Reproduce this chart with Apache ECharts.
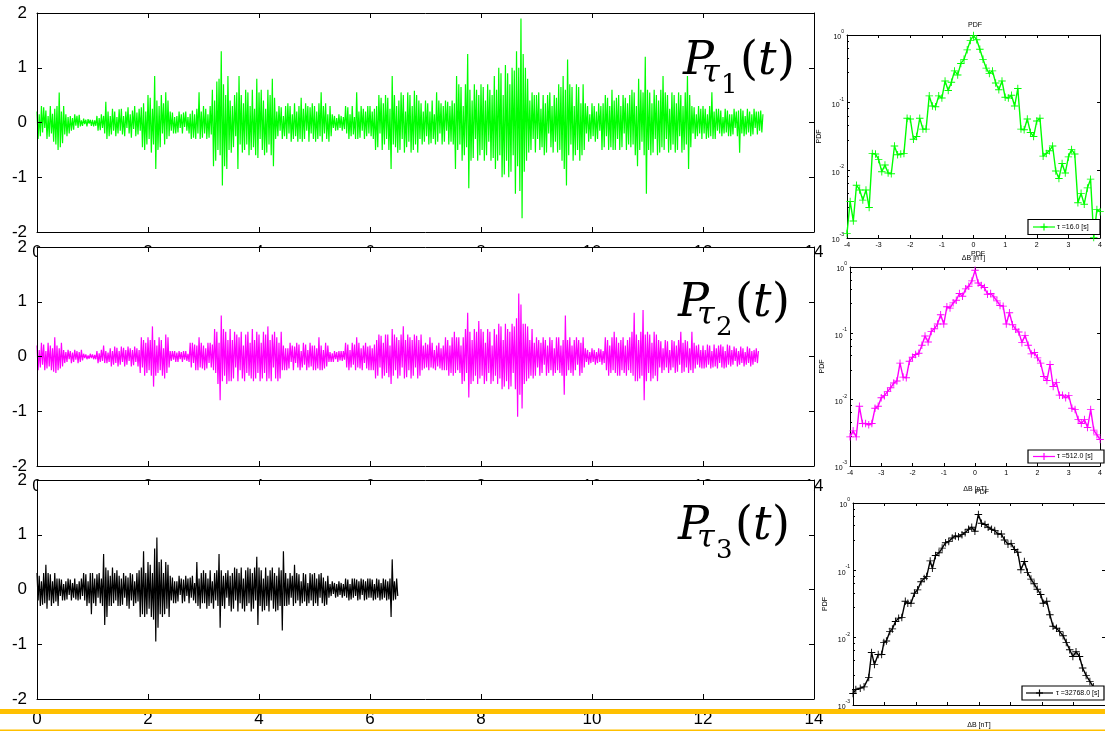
<!DOCTYPE html>
<html>
<head>
<meta charset="utf-8">
<script src="https://cdn.jsdelivr.net/npm/echarts@6/dist/echarts.min.js"></script>
<style>
html,body{margin:0;padding:0;background:#fff;}
#c{width:1105px;height:732px;}
</style>
</head>
<body>
<div id="c"></div>
<script>
// ---- time series P_tau(t), one sample every 0.02 time units ----
const sampleStep = 0.02;

const seriesP1 = [
 .2,-.3,.15,-.25,.3,-.18,.28,-.1,.22,-.3,.12,-.26,.3,-.2,.16,-.35,.25,-.4,.3,-.5,.55,-.45,.2,-.38,.3,
 -.22,.15,-.25,.1,-.2,.12,-.15,.08,-.13,.15,-.06,.12,-.1,.14,-.07,.04,-.06,.07,-.03,.05,-.07,.06,-.02,.05,-.06,
 .05,-.07,.04,-.06,.12,-.15,.08,-.14,.15,-.1,.12,-.2,.38,-.3,.2,-.25,.12,-.22,.25,-.15,.2,-.25,.1,-.2,.24,
 -.15,.25,-.22,.12,-.25,.2,-.1,.28,-.2,.15,-.28,.22,-.12,.3,-.25,.18,-.22,.25,-.15,.28,-.45,.35,-.5,.2,-.4,
 .5,-.3,.45,-.55,.25,-.4,.85,-.85,.4,-.5,.3,-.45,.5,-.2,.35,-.4,.55,-.3,.4,-.25,.2,-.15,.18,-.2,.1,
 -.2,.12,-.18,.2,-.1,.15,-.2,.18,-.08,.2,-.15,.1,-.2,.16,-.3,.22,-.28,.15,-.3,.25,-.2,.55,-.3,.2,-.28,
 .3,-.2,.25,-.3,.15,-.28,.3,-.22,.6,-.8,.4,-.7,.75,-.5,.8,-.6,1.3,-1.15,.7,-.8,.5,-.85,.85,-.5,.4,
 -.55,.3,-.45,.5,-.25,.55,-.85,.85,-.4,.5,-.55,.35,-.5,.6,-.4,.55,-.6,.3,-.5,.6,-.45,.25,-.6,.8,-.65,
 .55,-.3,.6,-.5,.4,-.6,.25,-.55,.6,-.4,.5,-.6,.8,-.8,.45,-.3,.2,-.25,.3,-.15,.28,-.3,.12,-.25,.3,
 -.3,.35,-.2,.3,-.35,.15,-.3,.35,-.25,.2,-.35,.3,-.3,.45,-.35,.25,-.3,.35,-.15,.3,-.35,.28,-.2,.35,-.3,
 .3,-.35,.2,-.3,.35,-.25,.55,-.35,.3,-.2,.35,-.3,.15,-.35,.3,-.25,.15,-.1,.12,-.15,.08,-.14,.15,-.1,.12,
 -.15,.1,-.12,.3,-.2,.28,-.3,.15,-.25,.3,-.22,.1,-.3,.55,-.3,.2,-.28,.3,-.15,.25,-.3,.2,-.25,.3,-.2,
 .3,-.25,.2,-.3,.25,-.5,.3,-.45,.5,-.2,.45,-.5,.35,-.4,.5,-.3,.45,-.5,.25,-.85,.85,-.4,.5,-.45,.3,
 -.55,.4,-.5,.55,-.3,.5,-.55,.2,-.45,.55,-.35,.5,-.55,.3,-.5,.58,-.4,.5,-.55,.4,-.3,.35,-.4,.2,-.35,
 .4,-.25,.35,-.4,.2,-.38,.4,-.3,.15,-.4,.55,-.35,.4,-.2,.35,-.4,.3,-.35,.4,-.15,.38,-.4,.3,-.35,.4,
 -.4,.35,-.85,.85,-.5,.7,-.4,.65,-.7,.3,-.6,.7,-.45,1.25,-1.2,.6,-.7,.4,-.65,.7,-.3,.6,-.7,.5,-.6,
 .7,-.5,.65,-.7,.4,-.6,.7,-.35,.6,-.7,.5,-.65,.85,-.85,.6,-.7,1.0,-.6,.9,-1.0,.5,-.95,1.05,-.7,.9,
 -1.0,.7,-.9,1.0,-.6,.95,-1.3,1.3,-.8,1.0,-1.25,1.9,-1.75,1.25,-.9,1.0,-.7,.8,-.55,.4,-.5,.55,-.3,.5,-.55,
 .5,-.3,.55,-.5,.25,-.45,.5,-.6,.35,-.55,.5,-.2,.55,-.45,.3,-.55,.5,-.35,.45,-.55,.7,-.5,.65,-.7,.85,
 -.85,.6,-1.15,1.15,-.6,.7,-.4,.65,-.7,.3,-.6,.7,-.5,.65,-.7,.35,-.6,.7,-.5,.35,-.2,.3,-.35,.15,-.3,
 .35,-.25,.3,-.35,.2,-.3,.35,-.15,.3,-.5,.35,-.45,.5,-.25,.45,-.5,.3,-.45,.6,-.5,.4,-.5,.45,-.3,.5,
 -.5,.3,-.45,.5,-.2,.45,-.5,.35,-.4,.5,-.45,.6,-.4,.55,-.6,.3,-.8,.8,-.5,.6,-.35,.55,-.6,1.2,-1.3,
 .6,-.5,.55,-.6,.35,-.55,.6,-.3,.5,-.6,.4,-.55,.6,-.45,.85,-.5,.55,-.3,.5,-.55,.25,-.5,.55,-.4,.5,
 -.55,.35,-.5,.55,-.25,.5,-.55,.3,-.5,.55,-.4,.85,-.85,.5,-.45,.3,-.2,.28,-.3,.15,-.25,.3,-.2,.25,-.3,
 .3,-.2,.25,-.3,.15,-.28,.3,-.25,.55,-.3,.2,-.3,.25,-.15,.25,-.2,.22,-.25,.1,-.2,.25,-.18,.22,-.25,.15,
 -.25,.15,-.22,.25,-.1,.2,-.25,.22,-.55,.25,-.2,.22,-.25,.12,-.22,.25,-.18,.2,-.25,.15,-.22,.25,-.1,.2,-.22,
 .2,-.15,.22,-.18,.15
];

const seriesP2 = [
 .2,-.25,.12,-.2,.25,-.15,.22,-.25,.1,-.22,.25,-.18,.2,-.25,.15,-.28,.35,-.3,.2,-.25,.15,-.22,.25,-.18,.12,
 -.12,.08,-.1,.12,-.05,.1,-.12,.07,-.1,.12,-.06,.1,-.12,.08,-.1,.12,-.07,.05,-.03,.04,-.05,.02,-.04,.05,-.03,
 .04,-.05,.03,-.05,.1,-.12,.06,-.1,.12,-.08,.2,-.12,.1,-.12,.07,-.1,.15,-.18,.1,-.15,.18,-.12,.16,-.18,.1,
 -.15,.18,-.1,.16,-.18,.12,-.15,.18,-.08,.15,-.18,.12,-.16,.18,-.1,.15,-.18,.12,-.3,.35,-.2,.3,-.35,.25,-.3,
 .35,-.25,.3,-.35,.55,-.55,.3,-.35,.2,-.3,.35,-.25,.3,-.35,.15,-.4,.4,-.3,.35,-.2,.1,-.08,.1,-.06,.1,
 -.1,.07,-.1,.1,-.05,.08,-.1,.1,-.06,.1,-.08,.05,-.1,.25,-.2,.25,-.12,.22,-.25,.2,-.25,.35,-.2,.25,-.22,
 .2,-.25,.15,-.22,.25,-.12,.25,-.2,.22,-.25,.5,-.3,.45,-.5,.25,-.8,.75,-.45,.5,-.35,.45,-.5,.3,-.45,.5,
 -.45,.3,-.4,.45,-.2,.4,-.45,.35,-.25,.45,-.4,.2,-.45,.4,-.3,.45,-.35,.25,-.4,.5,-.45,.3,-.4,.45,-.3,
 .4,-.45,.25,-.4,.45,-.3,.4,-.45,.55,-.4,.3,-.45,.4,-.2,.45,-.4,.35,-.45,.25,-.4,.45,-.25,.2,-.25,.15,
 -.25,.15,-.22,.25,-.1,.2,-.25,.18,-.12,.25,-.2,.22,-.25,.1,-.2,.25,-.15,.22,-.25,.12,-.2,.25,-.18,.2,-.25,
 .2,-.25,.15,-.22,.35,-.25,.2,-.25,.12,-.22,.25,-.18,.2,-.1,.08,-.1,.06,-.1,.1,-.05,.08,-.1,.1,-.07,.1,
 -.08,.1,-.06,.25,-.2,.22,-.25,.12,-.2,.25,-.15,.22,-.25,.35,-.2,.25,-.22,.15,-.25,.2,-.12,.25,-.22,.18,-.25,
 .2,-.25,.15,-.25,.22,-.4,.3,-.35,.4,-.2,.38,-.4,.25,-.35,.4,-.3,.4,-.38,.2,-.5,.5,-.35,.4,-.25,.35,
 -.4,.3,-.35,.4,-.2,.55,-.4,.3,-.38,.4,-.25,.35,-.4,.3,-.35,.4,-.2,.38,-.4,.3,-.35,.4,-.25,.2,-.22,
 .25,-.2,.22,-.25,.35,-.2,.25,-.22,.12,-.25,.2,-.18,.25,-.22,.15,-.25,.2,-.25,.35,-.25,.3,-.35,.2,-.3,.35,
 -.35,.45,-.3,.35,-.25,.35,-.3,.2,-.5,.35,-.45,.5,-.3,.8,-.75,.45,-.5,.3,-.45,.5,-.35,.45,-.5,.65,-.4,
 .5,-.35,.45,-.5,.25,-.45,.5,-.3,.45,-.5,.2,-.45,.5,-.35,.4,-.5,.6,-.4,.55,-.6,.3,-.55,.6,-.45,.5,
 -.6,.45,-.55,.6,-.3,.55,-.6,.7,-1.1,1.15,-.7,.95,-.95,.6,-.5,.6,-.45,.55,-.4,.3,-.35,.5,-.4,.25,-.35,
 .35,-.2,.3,-.35,.25,-.3,.35,-.15,.3,-.35,.2,-.3,.35,-.25,.3,-.35,.15,-.3,.35,-.25,.35,-.3,.2,-.35,.3,
 -.7,.75,-.35,.3,-.25,.35,-.3,.2,-.35,.3,-.25,.35,-.15,.3,-.35,.25,-.3,.35,-.2,.15,-.1,.12,-.15,.08,-.12,
 .15,-.1,.12,-.15,.08,-.12,.15,-.1,.13,-.15,.1,-.12,.35,-.25,.3,-.35,.2,-.3,.35,-.25,.45,-.3,.35,-.35,.25,
 -.35,.3,-.25,.35,-.3,.2,-.35,.3,-.25,.35,-.3,.45,-.35,.8,-.45,.4,-.45,.3,-.4,.45,-.35,.85,-.8,.4,-.45,
 .45,-.3,.4,-.45,.25,-.4,.45,-.35,.4,-.45,.3,-.2,.28,-.3,.15,-.25,.3,-.2,.28,-.3,.12,-.25,.3,-.2,.28,
 -.3,.2,-.28,.3,-.15,.45,-.3,.25,-.28,.3,-.2,.28,-.3,.15,-.25,.45,-.3,.25,-.22,.2,-.15,.22,-.2,.12,-.22,
 .2,-.22,.12,-.2,.22,-.15,.2,-.22,.1,-.2,.22,-.18,.15,-.22,.2,-.12,.22,-.2,.18,-.22,.1,-.2,.22,-.15,.2,
 -.18,.12,-.15,.18,-.08,.15,-.18,.1,-.15,.18,-.12,.15,-.18,.08,-.15,.18,-.12,.15,-.18,.1,-.15,.12,-.1,.15,-.12,
 .1
];

const seriesP3 = [
 .3,-.2,.25,-.3,.15,-.28,.3,-.25,.45,-.35,.3,-.2,.28,-.3,.15,-.25,.3,-.22,.2,-.3,.2,-.12,.18,-.2,.1,
 -.2,.15,-.18,.2,-.1,.18,-.2,.12,-.15,.2,-.18,.1,-.2,.15,-.18,.2,-.12,.3,-.2,.28,-.3,.15,-.25,.3,-.45,
 .3,-.25,.2,-.3,.28,-.15,.3,-.25,.2,-.3,.65,-.65,.4,-.5,.35,-.3,.25,-.3,.4,-.25,.3,-.2,.35,-.3,.25,
 -.3,.2,-.28,.3,-.15,.25,-.3,.22,-.35,.3,-.2,.28,-.3,.15,-.25,.3,-.22,.35,-.5,.4,-.45,.7,-.5,.3,-.45,
 .5,-.35,.45,-.5,.3,-.55,.75,-.95,.95,-.7,.5,-.45,.55,-.5,.3,-.45,.5,-.35,.45,-.5,.25,-.2,.22,-.25,.15,
 -.25,.15,-.22,.25,-.1,.2,-.25,.18,-.22,.25,-.12,.2,-.25,.22,-.15,.25,-.2,.12,-.25,.5,-.3,.2,-.35,.3,-.25,
 .35,-.25,.3,-.35,.2,-.3,.35,-.25,.15,-.35,.3,-.2,.35,-.3,.65,-.7,.35,-.3,.25,-.35,.3,-.15,.35,-.3,.25,
 -.4,.3,-.35,.4,-.2,.38,-.4,.3,-.25,.4,-.35,.2,-.4,.35,-.3,.4,-.25,.38,-.4,.3,-.35,.4,-.2,.6,-.65,
 .4,-.3,.35,-.4,.2,-.38,.4,-.3,.25,-.4,.35,-.2,.4,-.35,.3,-.4,.25,-.38,.4,-.3,.35,-.75,.7,-.3,.3,
 -.3,.2,-.28,.3,-.15,.25,-.3,.45,-.25,.3,-.2,.28,-.3,.15,-.25,.3,-.22,.28,-.3,.12,-.25,.3,-.2,.28,-.3,
 .3,-.25,.2,-.3,.28,-.15,.3,-.25,.22,-.3,.15,-.28,.25,-.15,.1,-.12,.15,-.08,.12,-.15,.1,-.13,.15,-.1,.12,
 -.15,.1,-.12,.2,-.15,.18,-.2,.1,-.18,.2,-.15,.2,-.12,.18,-.2,.15,-.18,.2,-.1,.18,-.2,.15,-.18,.2,-.15,
 .2,-.15,.18,-.2,.1,-.18,.2,-.15,.18,-.2,.12,-.18,.2,-.15,.18,-.2,.15,-.18,.2,-.5,.55,-.2,.15,-.18,.2,-.12
];

// ---- PDFs of the increments (bin centres in nT) ----
const binCenters = [
 -4.0,-3.9,-3.8,-3.7,-3.6,-3.5,-3.4,-3.3,-3.2,-3.1,-3.0,-2.9,-2.8,-2.7,-2.6,-2.5,-2.4,-2.3,-2.2,-2.1,
 -2.0,-1.9,-1.8,-1.7,-1.6,-1.5,-1.4,-1.3,-1.2,-1.1,-1.0,-0.9,-0.8,-0.7,-0.6,-0.5,-0.4,-0.3,-0.2,-0.1,
 0.0,0.1,0.2,0.3,0.4,0.5,0.6,0.7,0.8,0.9,1.0,1.1,1.2,1.3,1.4,1.5,1.6,1.7,1.8,1.9,
 2.0,2.1,2.2,2.3,2.4,2.5,2.6,2.7,2.8,2.9,3.0,3.1,3.2,3.3,3.4,3.5,3.6,3.7,3.8,3.9,4.0
];

const pdf1 = [
 0.00117,0.00347,0.00178,0.00603,0.00513,0.00363,0.00513,0.00282,0.0178,0.0174,
 0.0145,0.00955,0.0120,0.00912,0.00891,0.0229,0.0170,0.0174,0.0178,0.0589,
 0.0575,0.0288,0.0316,0.0589,0.0407,0.0407,0.126,0.0891,0.0871,0.126,
 0.117,0.209,0.151,0.200,0.295,0.257,0.380,0.437,0.603,0.832,
 0.98,
 0.851,0.617,0.437,0.324,0.269,0.295,0.195,0.155,0.209,0.120,
 0.117,0.129,0.0891,0.162,0.0407,0.0398,0.0575,0.0363,0.0316,0.0537,
 0.0589,0.0162,0.0178,0.0195,0.0229,0.00977,0.00759,0.0126,0.00912,0.0158,
 0.0204,0.0174,0.00331,0.00457,0.00316,0.00550,0.00741,0.00102,0.00263,0.00245
];

const pdf2 = [
 0.00275,0.00339,0.00275,0.00794,0.00437,0.00437,0.00417,0.00437,0.00741,0.00794,
 0.0107,0.0115,0.0132,0.0151,0.0178,0.0191,0.0355,0.0219,0.0214,0.0380,
 0.0437,0.0479,0.0501,0.0661,0.0912,0.0741,0.107,0.117,0.138,0.191,
 0.138,0.251,0.240,0.288,0.316,0.398,0.363,0.468,0.513,0.617,
 0.891,
 0.575,0.525,0.490,0.389,0.398,0.355,0.309,0.263,0.257,0.138,
 0.204,0.135,0.115,0.105,0.0724,0.0933,0.0661,0.0490,0.0513,0.0427,
 0.0355,0.0224,0.0195,0.0339,0.0158,0.0182,0.0117,0.0117,0.0107,0.0115,
 0.00741,0.00708,0.00501,0.00437,0.00501,0.00380,0.00708,0.00347,0.00295,0.00251
];

const pdf3X = [
 -4.0,-3.91,-3.77,-3.65,-3.5,-3.41,-3.32,-3.2,-3.09,-3.02,
 -2.94,-2.83,-2.75,-2.65,-2.55,-2.45,-2.34,-2.26,-2.16,-2.05,
 -1.95,-1.84,-1.74,-1.66,-1.55,-1.48,-1.38,-1.27,-1.17,-1.06,
 -0.96,-0.85,-0.75,-0.65,-0.54,-0.44,-0.33,-0.23,-0.13,-0.02,
 0.08,0.19,0.29,0.4,0.5,0.6,0.71,0.81,0.92,1.02,
 1.13,1.23,1.33,1.44,1.54,1.65,1.75,1.85,1.96,2.04,
 2.15,2.25,2.35,2.46,2.56,2.67,2.77,2.88,2.98,3.08,
 3.19,3.29,3.4,3.52,3.63
];
const pdf3 = [
 0.00148,0.0017,0.00178,0.00186,0.00257,0.00603,0.00398,0.00562,0.00562,0.00851,
 0.00891,0.0123,0.0135,0.0174,0.0195,0.020,0.0347,0.0324,0.0324,0.0457,
 0.0513,0.0676,0.0759,0.0813,0.138,0.107,0.166,0.182,0.214,0.257,
 0.269,0.302,0.324,0.316,0.339,0.363,0.407,0.437,0.380,0.676,
 0.501,0.479,0.437,0.407,0.389,0.347,0.347,0.282,0.245,0.251,
 0.204,0.186,0.102,0.135,0.0933,0.0741,0.0631,0.0525,0.0437,0.0324,
 0.0347,0.0219,0.0148,0.0138,0.0123,0.0107,0.00851,0.00661,0.00525,0.00617,
 0.00525,0.00355,0.00275,0.00224,0.00186
];

const timeTicks = [0, 14, 2];          // min, max, step of the time axes
const pdfRange = [-4, 4, 1];           // min, max, step of the increment axes
const tauLabels = ['\u03c4 =16.0 [s]', '\u03c4 =512.0 [s]', '\u03c4 =32768.0 [s]'];
const tauIndex = ['1', '2', '3'];
const colors = ['#00ff00', '#ff00ff', '#000000'];

// ---- layout ----
const leftGrids = [
  {left: 37, top: 13, width: 777, height: 219},
  {left: 37, top: 247, width: 777, height: 219},
  {left: 37, top: 480, width: 777, height: 219}
];
const rightGrids = [
  {left: 847, top: 35, width: 255, height: 203},
  {left: 850, top: 267, width: 256.6, height: 199},
  {left: 853, top: 503, width: 256, height: 202}
];

const SANS = '"Liberation Sans", Arial, sans-serif';
const SERIF = '"DejaVu Serif", serif';
const plusSymbol = 'path://M0,4.4H10V5.6H0Z M4.4,0H5.6V10H4.4Z';

const grid = [];
const xAxis = [];
const yAxis = [];
const series = [];

function frameAxis(base, pos, showLabel, extra) {
  return Object.assign({
    position: pos,
    axisLine: {show: true, onZero: false, lineStyle: {color: '#000', width: 1}},
    axisTick: {show: true, inside: true, length: 5, lineStyle: {color: '#000', width: 1}},
    splitLine: {show: false},
    axisLabel: {show: showLabel}
  }, base, extra || {});
}

// time-series panels
leftGrids.forEach((g, i) => {
  grid.push(Object.assign({containLabel: false}, g));
  const gi = grid.length - 1;
  const xb = {gridIndex: gi, type: 'value', min: timeTicks[0], max: timeTicks[1], interval: timeTicks[2]};
  const xIdx = xAxis.length;
  xAxis.push(frameAxis(Object.assign({z: 3}, xb), 'bottom', false));
  xAxis.push(frameAxis(Object.assign({z: 3}, xb), 'top', false));
  // tick labels on their own axis, so the next panel's plot area can sit on top of them
  xAxis.push(Object.assign({}, xb, {
    position: 'bottom', z: i < 2 ? -1 : 3,
    axisLine: {show: false, onZero: false}, axisTick: {show: false}, splitLine: {show: false},
    axisLabel: {show: true, fontSize: 17, color: '#000', fontFamily: SANS, margin: 12}
  }));
  const yb = {gridIndex: gi, type: 'value', min: -2, max: 2, interval: 1, z: 3};
  const yIdx = yAxis.length;
  yAxis.push(frameAxis(yb, 'left', true, {
    axisLabel: {show: true, fontSize: 17, color: '#000', fontFamily: SANS, margin: 10}
  }));
  yAxis.push(frameAxis(Object.assign({}, yb), 'right', false));
  const vals = [seriesP1, seriesP2, seriesP3][i];
  series.push({
    type: 'line',
    xAxisIndex: xIdx, yAxisIndex: yIdx,
    data: vals.map((v, k) => [k * sampleStep, v]),
    showSymbol: false, symbol: 'none',
    lineStyle: {color: colors[i], width: 1.2},
    z: 2, silent: true, animation: false
  });
});

// PDF panels
const pdfX = [binCenters, binCenters, pdf3X];
const pdfY = [pdf1, pdf2, pdf3];
const xNameGap = [17, 20, 17];
rightGrids.forEach((g, i) => {
  grid.push(Object.assign({containLabel: false}, g));
  const gi = grid.length - 1;
  const xb = {gridIndex: gi, type: 'value', min: pdfRange[0], max: pdfRange[1], interval: pdfRange[2], z: 3};
  const xIdx = xAxis.length;
  xAxis.push(frameAxis(xb, 'bottom', i < 2, {
    axisTick: {show: true, inside: true, length: 3, lineStyle: {color: '#000', width: 1}},
    axisLabel: {show: i < 2, fontSize: 7, color: '#000', fontFamily: SANS, margin: 4},
    name: '\u0394B [nT]', nameLocation: 'middle', nameGap: xNameGap[i],
    nameTextStyle: {fontSize: 7, color: '#000', fontFamily: SANS}
  }));
  xAxis.push(frameAxis(Object.assign({}, xb), 'top', false, {
    axisTick: {show: true, inside: true, length: 3, lineStyle: {color: '#000', width: 1}}
  }));
  const yb = {gridIndex: gi, type: 'log', logBase: 10, min: 0.001, max: 1, z: 3};
  const yIdx = yAxis.length;
  yAxis.push(frameAxis(yb, 'left', true, {
    axisTick: {show: true, inside: true, length: 3, lineStyle: {color: '#000', width: 1}},
    minorTick: {show: true, splitNumber: 5, length: 2, lineStyle: {color: '#000'}},
    axisLabel: {
      show: true, margin: 3, color: '#000', fontFamily: SANS,
      formatter: v => '{b|10}{s|' + Math.round(Math.log10(v)) + '}',
      rich: {
        b: {fontSize: 7, fontFamily: SANS, color: '#000', lineHeight: 12, verticalAlign: 'bottom'},
        s: {fontSize: 5, fontFamily: SANS, color: '#000', lineHeight: 6, verticalAlign: 'top'}
      }
    },
    name: 'PDF', nameLocation: 'middle', nameGap: 24, nameRotate: 90,
    nameTextStyle: {fontSize: 7, color: '#000', fontFamily: SANS}
  }));
  yAxis.push(frameAxis(Object.assign({}, yb), 'right', false, {
    axisTick: {show: true, inside: true, length: 3, lineStyle: {color: '#000', width: 1}}
  }));
  series.push({
    type: 'line',
    xAxisIndex: xIdx, yAxisIndex: yIdx,
    data: pdfX[i].map((x, k) => [x, pdfY[i][k]]),
    symbol: plusSymbol, symbolSize: 7.5, showSymbol: true,
    itemStyle: {color: colors[i]},
    lineStyle: {color: colors[i], width: 1.4},
    z: 4, silent: true, animation: false
  });
});

// ---- overlay graphics: panel backgrounds, labels, legends, footer bars ----
const graphic = [];

// opaque plot areas of the lower time panels hide the tick labels of the panel above
[1, 2].forEach(i => {
  const g = leftGrids[i];
  graphic.push({type: 'rect', z: 1, silent: true,
    shape: {x: g.left + 0.5, y: g.top + 0.5, width: g.width - 1, height: g.height - 1},
    style: {fill: '#fff'}});
});

graphic.push({type: 'text', z: 5, x: 483, y: -2,
  style: {text: 'time', font: '9px ' + SANS, fill: '#000', textAlign: 'center', textVerticalAlign: 'middle'}});

// panel titles of the PDF plots
[[975, 25], [978, 254], [982, 492]].forEach(p => {
  graphic.push({type: 'text', z: 5, x: p[0], y: p[1],
    style: {text: 'PDF', font: '7px ' + SANS, fill: '#000', textAlign: 'center', textVerticalAlign: 'middle'}});
});

// P_tau_i(t) labels
const mathPos = [[683, 78], [678, 320], [678, 543]];
mathPos.forEach((p, i) => {
  const x0 = p[0], b = p[1];
  const put = (dx, dy, text, font) => graphic.push({type: 'text', z: 5, x: x0 + dx, y: b + dy,
    style: {text: text, font: font, fill: '#000', textAlign: 'left', textVerticalAlign: 'middle'}});
  put(0, -16, 'P', 'italic 46px ' + SERIF);
  put(19, -4, '\u03c4', 'italic 32px ' + SERIF);
  put(38, 8, tauIndex[i], '26px ' + SERIF);
  put(57, -16, '(', '46px ' + SERIF);
  put(75, -16, 't', 'italic 46px ' + SERIF);
  put(94, -16, ')', '46px ' + SERIF);
});

// legend boxes of the PDF plots
const legendBoxes = [
  {x: 1028, y: 219.5, w: 72, h: 15, l0: 1033, l1: 1055, tx: 1057},
  {x: 1028, y: 450, w: 76, h: 13, l0: 1033, l1: 1055, tx: 1057},
  {x: 1022, y: 686, w: 82, h: 14, l0: 1026, l1: 1053, tx: 1056}
];
legendBoxes.forEach((b, i) => {
  const cy = b.y + b.h / 2;
  const cx = (b.l0 + b.l1) / 2;
  graphic.push({type: 'rect', z: 6, silent: true,
    shape: {x: b.x, y: b.y, width: b.w, height: b.h},
    style: {fill: '#fff', stroke: '#000', lineWidth: 1.2}});
  graphic.push({type: 'line', z: 7, shape: {x1: b.l0, y1: cy, x2: b.l1, y2: cy},
    style: {stroke: colors[i], lineWidth: 1.2}});
  graphic.push({type: 'line', z: 7, shape: {x1: cx - 3.5, y1: cy, x2: cx + 3.5, y2: cy},
    style: {stroke: colors[i], lineWidth: 1.2}});
  graphic.push({type: 'line', z: 7, shape: {x1: cx, y1: cy - 3.5, x2: cx, y2: cy + 3.5},
    style: {stroke: colors[i], lineWidth: 1.2}});
  graphic.push({type: 'text', z: 7, x: b.tx, y: cy,
    style: {text: tauLabels[i], font: '7px ' + SANS, fill: '#000', textAlign: 'left', textVerticalAlign: 'middle'}});
});

// footer bars
graphic.push({type: 'rect', z: 10, silent: true, shape: {x: 0, y: 709, width: 1105, height: 5}, style: {fill: '#ffc000'}});
graphic.push({type: 'rect', z: 10, silent: true, shape: {x: 0, y: 729.5, width: 1105, height: 1.5}, style: {fill: '#ffc000'}});

const chart = echarts.init(document.getElementById('c'), null, {renderer: 'canvas'});
chart.setOption({
  animation: false,
  backgroundColor: '#fff',
  grid: grid,
  xAxis: xAxis,
  yAxis: yAxis,
  series: series,
  graphic: graphic
});
</script>
</body>
</html>
